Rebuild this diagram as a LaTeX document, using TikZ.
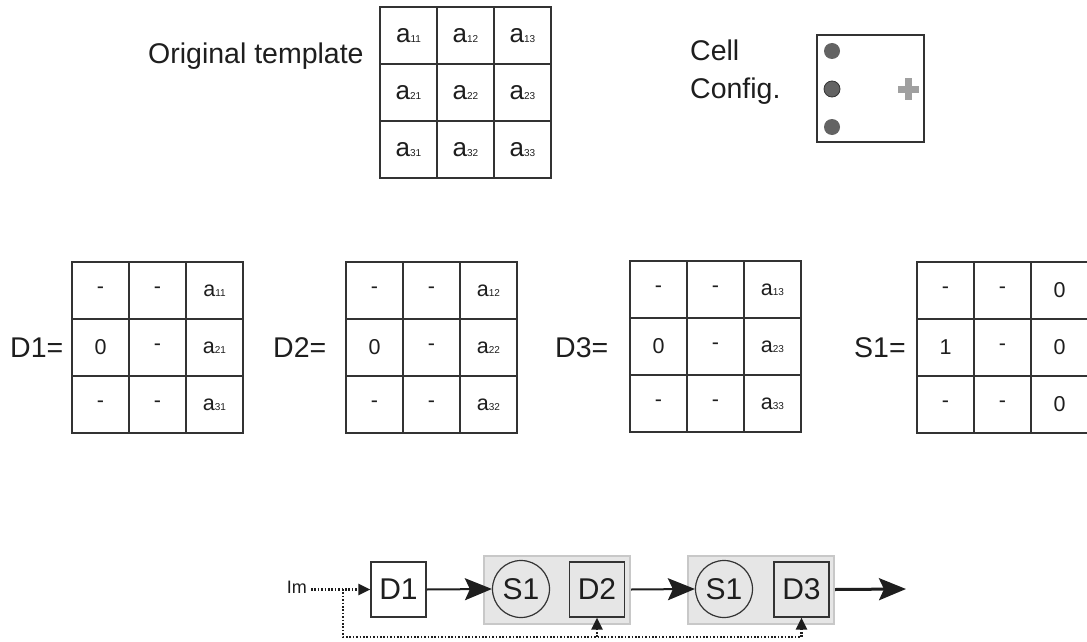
\documentclass[tikz,border=0pt]{standalone}
\usepackage{fontspec}
\setmainfont{Liberation Sans}
\usetikzlibrary{arrows.meta,matrix}

\definecolor{ink}{HTML}{1E1E1E}
\definecolor{gridline}{HTML}{333333}
\definecolor{grpfill}{HTML}{E6E6E6}
\definecolor{grpedge}{HTML}{C8C8C8}
\definecolor{dotfill}{HTML}{636363}
\definecolor{plusgray}{HTML}{A0A0A0}

% template entry a_{ij}: "a" with a small index on the baseline
\newcommand\ent[1]{{\fontsize{21.5}{22}\selectfont a}{\fontsize{10}{10}\selectfont #1}}
\newcommand\bigent[1]{{\fontsize{26}{26}\selectfont a}{\fontsize{10}{10}\selectfont #1}}

\begin{document}
\begin{tikzpicture}[
  x=1pt, y=-1pt,
  lbl/.style={font=\fontsize{28.5}{30}\selectfont, text=ink, inner sep=0pt},
  cellgrid/.style={matrix of nodes, anchor=north west, inner sep=0pt, outer sep=0pt,
    column sep=-1.2pt, row sep=-1.2pt,
    nodes={draw=gridline, line width=1.2pt, minimum size=57pt, inner sep=0pt,
      text=ink, font=\fontsize{21.5}{22}\selectfont, anchor=center}},
  blk/.style={draw=gridline, line width=1.2pt, minimum width=55pt, minimum height=55pt,
    inner sep=0pt, text=ink, font=\fontsize{30}{30}\selectfont},
  sel/.style={circle, draw=gridline, line width=1.2pt, fill=grpfill, minimum size=57pt,
    inner sep=0pt, text=ink, font=\fontsize{30}{30}\selectfont},
  grp/.style={draw=grpedge, line width=2pt, fill=grpfill, minimum width=146pt,
    minimum height=68pt, inner sep=0pt},
  flow/.style={draw=ink, line width=2pt, -{Stealth[length=27pt,width=22pt,inset=5pt]}},
  fb/.style={draw=ink, line width=2.2pt, dash pattern=on 1.6pt off 1.8pt,
    -{Triangle[length=12pt,width=11pt]}},
  dot/.style={circle, fill=dotfill, minimum size=16pt, inner sep=0pt},
  plusbar/.style={fill=plusgray, inner sep=0pt},
]
\clip (0,0) rectangle (1087,642);
\fill[white] (0,0) rectangle (1087,642);

% ---- original 3x3 template ----
\node[lbl, anchor=base west] (origlbl) at (148,63.5) {Original template};
\matrix (orig) [cellgrid] at (379.4,6.4) {
  \bigent{11} & \bigent{12} & \bigent{13} \\
  \bigent{21} & \bigent{22} & \bigent{23} \\
  \bigent{31} & \bigent{32} & \bigent{33} \\
};

% ---- cell configuration ----
\node[lbl, anchor=base west] (cfglbl1) at (690,60) {Cell};
\node[lbl, anchor=base west] (cfglbl2) at (690,98) {Config.};
\node[draw=gridline, line width=1.2pt, minimum width=107pt, minimum height=107pt,
  inner sep=0pt] (cfg) at (870.5,88.5) {};
\node[dot] (cdot1) at (832,51) {};
\node[dot, draw=gridline, line width=0.8pt] (cdot2) at (832,89) {};
\node[dot] (cdot3) at (832,127) {};
\node[plusbar, minimum width=21pt, minimum height=7pt] (plush) at (908,89) {};
\node[plusbar, minimum width=7pt, minimum height=21pt] (plusv) at (908,89) {};

% ---- decomposed templates ----
\node[lbl, anchor=base west] (d1lbl) at (10,357) {D1=};
\matrix (d1m) [cellgrid] at (71.4,261.4) {
  - & - & \ent{11} \\
  0 & - & \ent{21} \\
  - & - & \ent{31} \\
};
\node[lbl, anchor=base west] (d2lbl) at (273,357) {D2=};
\matrix (d2m) [cellgrid] at (345.4,261.4) {
  - & - & \ent{12} \\
  0 & - & \ent{22} \\
  - & - & \ent{32} \\
};
\node[lbl, anchor=base west] (d3lbl) at (555,357) {D3=};
\matrix (d3m) [cellgrid] at (629.4,260.4) {
  - & - & \ent{13} \\
  0 & - & \ent{23} \\
  - & - & \ent{33} \\
};
\node[lbl, anchor=base west] (s1lbl) at (854,357) {S1=};
\matrix (s1m) [cellgrid] at (916.4,261.4) {
  - & - & 0 \\
  1 & - & 0 \\
  - & - & 0 \\
};

% ---- processing chain ----
\node[grp] (g1) at (557,590) {};
\node[grp] (g2) at (761,590) {};
\node[lbl, font=\fontsize{18}{18}\selectfont, anchor=east] (im) at (307,587) {Im};
\node[blk, fill=white] (d1) at (398.5,589.5) {D1};
\node[sel] (s1a) at (521,589) {S1};
\node[blk, fill=grpfill] (d2) at (597,589.5) {D2};
\node[sel] (s1b) at (724,589) {S1};
\node[blk, fill=grpfill] (d3) at (801.5,589.5) {D3};
\coordinate (out) at (906,589);
\coordinate (j) at (343,589);
\coordinate (fbl) at (343,637);

\draw[fb, shorten <=4pt] (im.east |- d1.west) -- (d1.west);
\draw[flow] (d1.east) -- (s1a.west);
\draw[flow] (g1.east |- d2.east) -- (s1b.west);
\draw[flow, line width=3pt] (g2.east |- d3.east) -- (out);
\draw[fb] (j) -- (fbl) -| (d3.south);
\draw[fb] (d2.south |- fbl) -- (d2.south);
\end{tikzpicture}
\end{document}
